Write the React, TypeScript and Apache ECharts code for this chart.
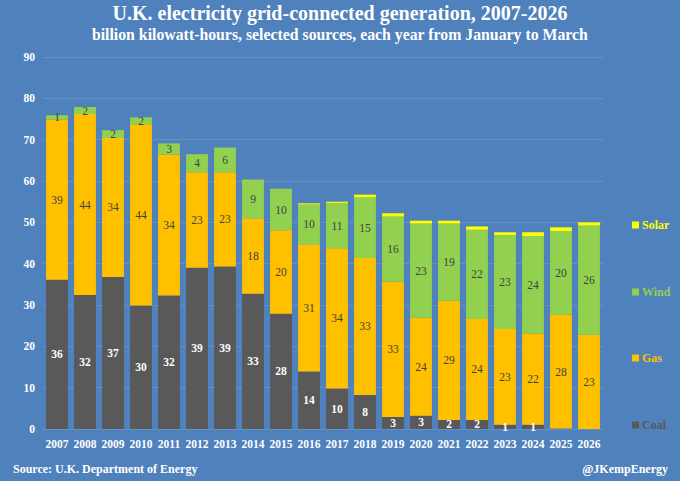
import React, { useEffect, useRef } from "react";
import * as echarts from "echarts";

const years = ["2007","2008","2009","2010","2011","2012","2013","2014","2015","2016","2017","2018","2019","2020","2021","2022","2023","2024","2025","2026"];
const coal = [36.1, 32.4, 36.8, 29.9, 32.3, 39.0, 39.3, 32.7, 27.9, 13.9, 9.8, 8.2, 2.9, 3.2, 2.2, 2.2, 1.0, 1.0, 0.1, 0.0];
const gas = [38.8, 43.8, 33.6, 43.8, 34.1, 23.1, 22.8, 18.3, 20.2, 30.8, 33.9, 33.2, 32.8, 23.7, 28.8, 24.4, 23.2, 22.1, 27.6, 22.8];
const wind = [1.0, 1.7, 1.9, 1.7, 2.7, 4.4, 6.0, 9.2, 9.9, 9.6, 11.0, 14.7, 15.7, 22.8, 18.7, 21.6, 22.7, 23.6, 20.2, 26.4];
const solar = [0, 0, 0, 0, 0, 0, 0, 0.1, 0.1, 0.3, 0.3, 0.6, 0.8, 0.7, 0.7, 0.8, 0.7, 0.9, 0.9, 0.8];

const titleText = "U.K. electricity grid-connected generation, 2007-2026";
const subtitleText = "billion kilowatt-hours, selected sources, each year from January to March";
const sourceText = "Source: U.K. Department of Energy";
const handleText = "@JKempEnergy";

const FONT = "'Liberation Serif', 'Times New Roman', serif";
const BG = "#4f81bd";
const COLORS = { Coal: "#595959", Gas: "#ffc000", Wind: "#92d050", Solar: "#ffff00" };

const fmt = (p: any) => {
  const v = Math.round(p.value);
  return v === 0 ? "" : String(v);
};

export default function App() {
  const ref = useRef<HTMLDivElement>(null);
  useEffect(() => {
    if (!ref.current) return;
    const chart = echarts.init(ref.current, null, { renderer: "svg" });
    const mkSeries = (name: string, data: number[], labelColor: string | null, bold = false) => ({
      name,
      type: "bar",
      stack: "total",
      data,
      barWidth: "78%",
      itemStyle: { color: (COLORS as any)[name] },
      label: labelColor
        ? {
            show: true,
            position: "inside",
            formatter: fmt,
            color: labelColor,
            fontFamily: FONT,
            fontSize: 11.5,
            fontWeight: bold ? "bold" : "normal",
          }
        : { show: false },
      emphasis: { disabled: true },
    });
    const legendTops = [
      { name: "Solar", top: 214 },
      { name: "Wind", top: 281 },
      { name: "Gas", top: 347 },
      { name: "Coal", top: 414 },
    ];
    chart.setOption({
      animation: false,
      backgroundColor: BG,
      textStyle: { fontFamily: FONT },
      graphic: [
        {
          type: "text",
          left: "center",
          top: 3,
          style: { text: titleText, fill: "#ffffff", font: `bold 20px ${FONT}` },
        },
        {
          type: "text",
          left: "center",
          top: 26,
          style: { text: subtitleText, fill: "#ffffff", font: `bold 15.8px ${FONT}` },
        },
        {
          type: "text",
          left: 13,
          top: 463,
          style: { text: sourceText, fill: "#ffffff", font: `bold 12px ${FONT}` },
        },
        {
          type: "text",
          right: 12,
          top: 463,
          style: { text: handleText, fill: "#ffffff", font: `bold 12px ${FONT}` },
        },
      ],
      legend: legendTops.map((l) => ({
        data: [{ name: l.name, textStyle: { color: (COLORS as any)[l.name] } }],
        left: 627,
        top: l.top,
        icon: "rect",
        itemWidth: 7,
        itemHeight: 7,
        itemGap: 3,
        selectedMode: false,
        textStyle: { fontFamily: FONT, fontSize: 12, fontWeight: "bold", padding: [0, 0, 0, -2] },
      })),
      grid: { left: 43, right: 77, top: 57, bottom: 52 },
      xAxis: {
        type: "category",
        data: years,
        axisTick: { show: false },
        axisLine: { show: true, lineStyle: { color: "#6690c5" } },
        axisLabel: { color: "#ffffff", fontFamily: FONT, fontSize: 11.5, fontWeight: "bold", margin: 9, interval: 0 },
      },
      yAxis: {
        type: "value",
        min: 0,
        max: 90,
        interval: 10,
        axisLine: { show: false },
        axisTick: { show: false },
        splitLine: { lineStyle: { color: "#6690c5", width: 1 } },
        axisLabel: { color: "#ffffff", fontFamily: FONT, fontSize: 11.5, fontWeight: "bold", margin: 8 },
      },
      series: [
        mkSeries("Coal", coal, "#ffffff", true),
        mkSeries("Gas", gas, "#404040"),
        mkSeries("Wind", wind, "#404040"),
        mkSeries("Solar", solar, null),
      ],
    });
    return () => chart.dispose();
  }, []);
  return (
    <div
      ref={ref}
      style={{ position: "fixed", left: 0, top: 0, width: 680, height: 481 }}
    />
  );
}
